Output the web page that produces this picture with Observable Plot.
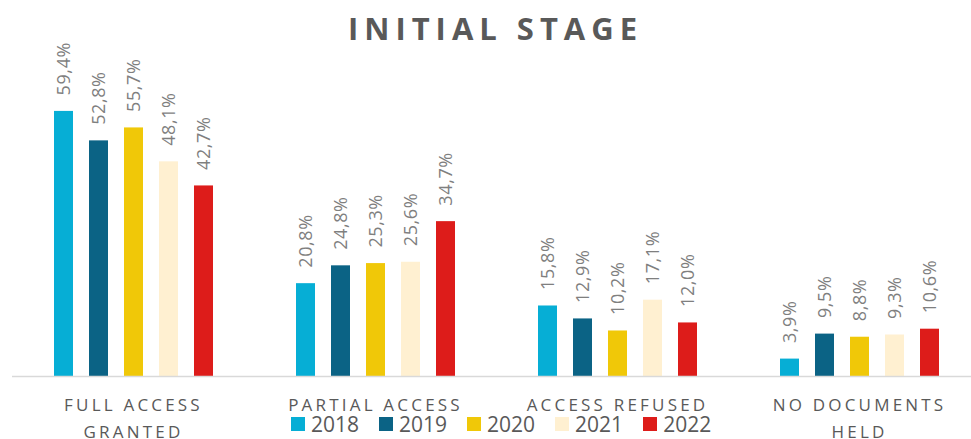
<!DOCTYPE html>
<html>
<head>
<meta charset="utf-8">
<script src="https://cdn.jsdelivr.net/npm/d3@7"></script>
<script src="https://cdn.jsdelivr.net/npm/@observablehq/plot@0.6"></script>
<style>
  html, body { margin: 0; padding: 0; background: #fff; overflow: hidden; }
  #wrap { position: relative; width: 971px; height: 439px; overflow: hidden; font-family: "Open Sans", sans-serif; }
  #title { height: 52px; line-height: 52px; padding-top: 2px; box-sizing: border-box; text-align: center; font-size: 31px; font-weight: 700; color: #595959; letter-spacing: 6px; padding-left: 20px; }
  #chart svg { max-width: none !important; }
  #legend { position: absolute; left: 291px; top: 413px; display: flex; align-items: center; gap: 20px; }
  .item { display: flex; align-items: center; font-size: 21px; line-height: 22px; color: #595959; }
  .sw { display: inline-block; width: 14px; height: 14px; margin-right: 6px; }
</style>
</head>
<body>
<div id="wrap">
  <div id="title">INITIAL STAGE</div>
  <div id="chart"></div>
  <div id="legend"></div>
</div>
<script>
const categories = ["FULL ACCESS\nGRANTED", "PARTIAL ACCESS", "ACCESS REFUSED", "NO DOCUMENTS\nHELD"];
const years = ["2018", "2019", "2020", "2021", "2022"];
const colors = ["#06aed5", "#0b6385", "#f0c808", "#fff0d1", "#dd1c1a"];
const fullAccess = [59.4, 52.8, 55.7, 48.1, 42.7];
const partialAccess = [20.8, 24.8, 25.3, 25.6, 34.7];
const accessRefused = [15.8, 12.9, 10.2, 17.1, 12.0];
const noDocuments = [3.9, 9.5, 8.8, 9.3, 10.6];

const series = [fullAccess, partialAccess, accessRefused, noDocuments];
const rows = categories.flatMap((c, i) => years.map((y, j) => ({cat: c, year: y, value: series[i][j]})));
const fmt = v => v.toFixed(1).replace(".", ",") + "%";

const chart = Plot.plot({
  width: 981,
  height: 387,
  marginLeft: 10,
  marginRight: 0,
  marginTop: 0,
  marginBottom: 63,
  style: {overflow: "visible", background: "transparent", fontFamily: "Open Sans, sans-serif", maxWidth: "none"},
  fx: {domain: categories, padding: 0, axis: null},
  x: {domain: years, paddingInner: 0.465, paddingOuter: 1.15, axis: null},
  y: {domain: [0, 72.6], axis: null},
  color: {domain: years, range: colors},
  marks: [
    Plot.barY(rows, {fx: "cat", x: "year", y: "value", fill: "year"}),
    Plot.ruleY([0], {stroke: "#d9d9d9", strokeWidth: 1.5}),
    Plot.text(rows, {
      fx: "cat", x: "year", y: "value", text: d => fmt(d.value),
      rotate: -90, textAnchor: "start", dy: -16,
      fill: "#7f7f7f", fontSize: 18
    }),
    Plot.text(categories, {
      fx: d => d, text: d => d, frameAnchor: "bottom", lineAnchor: "top",
      dy: 15, fontSize: 17, lineHeight: 1.59, fill: "#595959"
    })
  ]
});
document.getElementById("chart").appendChild(chart);

// letter spacing for the text marks
d3.select(chart).selectAll("text").each(function() {
  const t = this.textContent;
  if (t.includes("%")) this.style.letterSpacing = "0.6px";
  else this.style.letterSpacing = "3.2px";
});

const legend = d3.select("#legend");
years.forEach((y, i) => {
  const it = legend.append("div").attr("class", "item");
  it.append("span").attr("class", "sw").style("background", colors[i]);
  it.append("span").text(y);
});
</script>
</body>
</html>
